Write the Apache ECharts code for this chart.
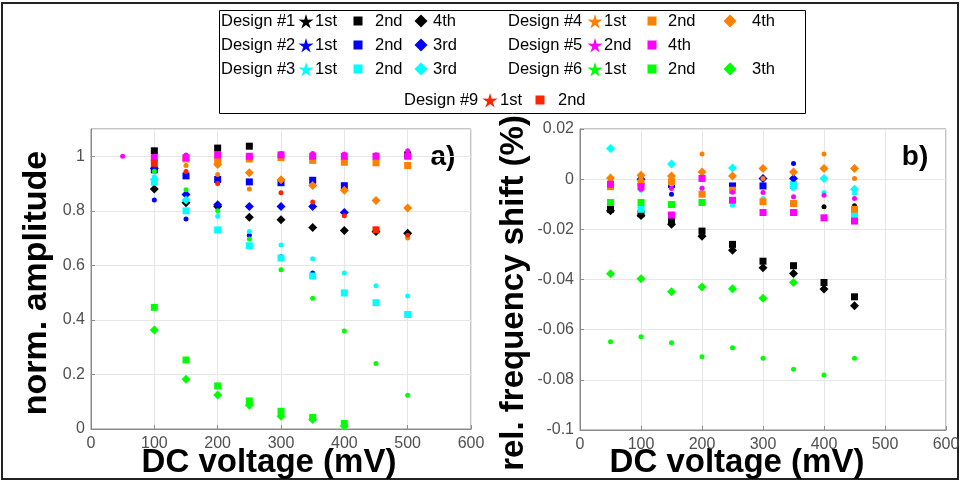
<!DOCTYPE html>
<html>
<head>
<meta charset="utf-8">
<script src="https://cdn.jsdelivr.net/npm/echarts@6/dist/echarts.min.js"></script>
<style>
  html, body { margin: 0; padding: 0; background: #fff; }
  #chart { width: 963px; height: 484px; }
</style>
</head>
<body>
<div id="chart"></div>
<script>
// DC bias voltages (mV) shared by every measurement series
const volts = [50, 100, 150, 200, 250, 300, 350, 400, 450, 500];

// a) normalized amplitude per design / mode
const d1_1st_amp = [null, null, null, null, null, null, null, null, null, null];
const d1_2nd_amp = [null, 1.02, null, 1.03, 1.037, null, null, null, null, 1.005];
const d1_4th_amp = [null, 0.88, 0.83, 0.816, 0.776, 0.767, 0.739, 0.728, 0.724, 0.718];
const d2_1st_amp = [null, 0.84, 0.77, null, 0.71, 0.632, 0.572, null, null, null];
const d2_2nd_amp = [null, 0.95, 0.928, 0.915, 0.906, 0.903, 0.912, 0.892, null, null];
const d2_3rd_amp = [null, 0.955, 0.86, 0.822, 0.816, 0.816, 0.816, 0.794, null, null];
const d3_1st_amp = [null, 0.925, null, 0.78, 0.724, 0.675, 0.624, 0.572, 0.525, 0.488];
const d3_2nd_amp = [null, 0.905, 0.80, 0.73, 0.672, 0.627, 0.561, 0.499, 0.463, 0.42];
const d3_3rd_amp = [null, 0.915, 0.84, null, null, null, null, null, null, null];
const d4_1st_amp = [null, null, 0.966, 0.933, 0.88, null, null, null, 0.734, 0.70];
const d4_2nd_amp = [null, null, 0.99, 0.985, 0.99, 0.995, 0.985, 0.978, 0.976, 0.966];
const d4_4th_amp = [null, null, null, 0.97, 0.94, 0.914, 0.893, 0.875, 0.838, 0.81];
const d5_2nd_amp = [1.0, 1.0, 1.005, 1.008, 1.0, 1.01, 1.01, 1.008, 1.006, 1.02];
const d5_4th_amp = [null, 0.995, 0.995, 1.005, 1.0, 1.005, 1.0, 1.0, 1.0, 1.0];
const d6_1st_amp = [null, 0.945, 0.877, 0.80, 0.697, 0.584, 0.479, 0.359, 0.24, 0.124];
const d6_2nd_amp = [null, 0.446, 0.253, 0.158, 0.103, 0.065, 0.042, 0.02, null, null];
const d6_3rd_amp = [null, 0.363, 0.182, 0.125, 0.087, 0.047, 0.035, 0.011, null, null];
const d9_1st_amp = [null, 0.97, 0.944, 0.90, null, 0.866, 0.832, 0.782, null, 0.71];
const d9_2nd_amp = [null, 0.975, null, null, null, null, null, null, 0.73, null];

// b) relative frequency shift (%) per design / mode
const d1_1st_shift = [null, null, null, null, null, null, null, -0.011, -0.0106, null];
const d1_2nd_shift = [-0.012, -0.0138, -0.0168, -0.0207, -0.026, -0.0327, -0.0345, -0.0412, -0.0469, null];
const d1_4th_shift = [-0.0126, -0.0145, -0.018, -0.0228, -0.0283, -0.0353, -0.0376, -0.0438, -0.0505, null];
const d2_1st_shift = [null, null, -0.006, null, null, null, 0.0062, null, null, null];
const d2_2nd_shift = [null, null, -0.0021, null, -0.0027, -0.0027, -0.0024, null, null, null];
const d2_3rd_shift = [null, 0.0, null, null, null, 0.0003, 0.0003, null, null, null];
const d3_1st_shift = [-0.003, -0.0044, -0.002, -0.0036, -0.0104, -0.0077, -0.0037, -0.0053, -0.0056, null];
const d3_2nd_shift = [null, -0.012, null, null, null, null, -0.0024, null, -0.0143, null];
const d3_3rd_shift = [0.0122, null, 0.006, null, 0.0045, null, null, 0.0003, -0.004, null];
const d4_1st_shift = [-0.001, 0.0004, -0.0004, 0.01, null, 0.0003, null, 0.01, 0.0003, null];
const d4_2nd_shift = [-0.003, -0.0015, -0.001, -0.006, -0.0044, -0.009, -0.0097, null, -0.012, null];
const d4_4th_shift = [0.0005, 0.0016, 0.0013, 0.0029, 0.0013, 0.0043, 0.0029, 0.0043, 0.0043, null];
const d5_2nd_shift = [-0.0025, -0.004, -0.0037, -0.0036, -0.0052, -0.0053, -0.007, -0.0064, -0.0077, null];
const d5_4th_shift = [-0.002, -0.003, -0.0143, 0.0003, -0.0084, -0.0133, -0.0133, -0.0154, -0.0167, null];
const d6_1st_shift = [-0.0648, -0.0628, -0.0652, -0.0708, -0.0672, -0.0714, -0.0758, -0.0781, -0.0714, null];
const d6_2nd_shift = [-0.0093, -0.0093, -0.0101, -0.0093, null, null, null, null, null, null];
const d6_3rd_shift = [-0.0377, -0.0397, -0.0449, -0.043, -0.0437, -0.0475, -0.0412, null, null, null];
const d9_1st_shift = [null, null, null, null, null, null, null, null, null, null];
const d9_2nd_shift = [null, null, null, null, null, null, null, null, null, null];

const BLACK = '#000000', BLUE = '#0000ff', CYAN = '#00ffff', ORANGE = '#ff8000',
      MAGENTA = '#ff00ff', GREEN = '#00ff00', RED = '#ff2200';

// one entry per design/mode; mark: star (first-listed marker), square, diamond
const defs = [
  { design: 'Design #1', mode: '1st', color: BLACK,   mark: 'star',    amp: d1_1st_amp, shift: d1_1st_shift },
  { design: 'Design #1', mode: '2nd', color: BLACK,   mark: 'square',  amp: d1_2nd_amp, shift: d1_2nd_shift },
  { design: 'Design #1', mode: '4th', color: BLACK,   mark: 'diamond', amp: d1_4th_amp, shift: d1_4th_shift },
  { design: 'Design #2', mode: '1st', color: BLUE,    mark: 'star',    amp: d2_1st_amp, shift: d2_1st_shift },
  { design: 'Design #2', mode: '2nd', color: BLUE,    mark: 'square',  amp: d2_2nd_amp, shift: d2_2nd_shift },
  { design: 'Design #2', mode: '3rd', color: BLUE,    mark: 'diamond', amp: d2_3rd_amp, shift: d2_3rd_shift },
  { design: 'Design #3', mode: '1st', color: CYAN,    mark: 'star',    amp: d3_1st_amp, shift: d3_1st_shift },
  { design: 'Design #3', mode: '2nd', color: CYAN,    mark: 'square',  amp: d3_2nd_amp, shift: d3_2nd_shift },
  { design: 'Design #3', mode: '3rd', color: CYAN,    mark: 'diamond', amp: d3_3rd_amp, shift: d3_3rd_shift },
  { design: 'Design #4', mode: '1st', color: ORANGE,  mark: 'star',    amp: d4_1st_amp, shift: d4_1st_shift },
  { design: 'Design #4', mode: '2nd', color: ORANGE,  mark: 'square',  amp: d4_2nd_amp, shift: d4_2nd_shift },
  { design: 'Design #4', mode: '4th', color: ORANGE,  mark: 'diamond', amp: d4_4th_amp, shift: d4_4th_shift },
  { design: 'Design #5', mode: '2nd', color: MAGENTA, mark: 'star',    amp: d5_2nd_amp, shift: d5_2nd_shift },
  { design: 'Design #5', mode: '4th', color: MAGENTA, mark: 'square',  amp: d5_4th_amp, shift: d5_4th_shift },
  { design: 'Design #6', mode: '1st', color: GREEN,   mark: 'star',    amp: d6_1st_amp, shift: d6_1st_shift },
  { design: 'Design #6', mode: '2nd', color: GREEN,   mark: 'square',  amp: d6_2nd_amp, shift: d6_2nd_shift },
  { design: 'Design #6', mode: '3th', color: GREEN,   mark: 'diamond', amp: d6_3rd_amp, shift: d6_3rd_shift },
  { design: 'Design #9', mode: '1st', color: RED,     mark: 'star',    amp: d9_1st_amp, shift: d9_1st_shift },
  { design: 'Design #9', mode: '2nd', color: RED,     mark: 'square',  amp: d9_2nd_amp, shift: d9_2nd_shift }
];

const plotSymbol = {
  star:    { symbol: 'circle',  size: 5 },
  square:  { symbol: 'rect',    size: 7 },
  diamond: { symbol: 'diamond', size: 9 }
};

const FONT = '"Liberation Sans", Arial, Helvetica, sans-serif';
const AXIS_GRAY = '#8a8a8a';
const LABEL_GRAY = '#505050';

function pairs(values) {
  const out = [];
  volts.forEach((v, i) => { if (values[i] != null) out.push([v, values[i]]); });
  return out;
}

const series = [];
defs.forEach((d) => {
  const s = plotSymbol[d.mark];
  [['amp', 0], ['shift', 1]].forEach(([key, idx]) => {
    series.push({
      type: 'scatter',
      name: d.design + ' ' + d.mode,
      xAxisIndex: idx,
      yAxisIndex: idx,
      symbol: s.symbol,
      symbolSize: s.size,
      itemStyle: { color: d.color, opacity: 1 },
      emphasis: { disabled: true },
      data: pairs(d[key])
    });
  });
});

function xAxisCfg(gridIndex) {
  return {
    type: 'value', gridIndex, min: 0, max: 600, interval: 100,
    axisLine: { show: true, onZero: false, lineStyle: { color: AXIS_GRAY, width: 1 } },
    axisTick: { show: true, inside: true, length: 4, lineStyle: { color: AXIS_GRAY } },
    axisLabel: { color: LABEL_GRAY, fontFamily: FONT, fontSize: 16, margin: 7 },
    splitLine: { show: true, lineStyle: { color: '#e6e6e6', width: 1 } }
  };
}

function yAxisCfg(gridIndex, min, max, interval, hideMax) {
  return {
    type: 'value', gridIndex, min, max, interval,
    axisLine: { show: true, onZero: false, lineStyle: { color: AXIS_GRAY, width: 1 } },
    axisTick: { show: true, inside: true, length: 4, lineStyle: { color: AXIS_GRAY } },
    axisLabel: { color: LABEL_GRAY, fontFamily: FONT, fontSize: 16, margin: 6, showMaxLabel: !hideMax },
    splitLine: { show: true, lineStyle: { color: '#e6e6e6', width: 1 } }
  };
}

// ---- legend block drawn as graphic elements ----
function starPoints(cx, cy, r) {
  const pts = [];
  const inner = r * 0.36;
  for (let k = 0; k < 10; k++) {
    const ang = -Math.PI / 2 + k * Math.PI / 5;
    const rr = k % 2 === 0 ? r : inner;
    pts.push([cx + rr * Math.cos(ang), cy + rr * Math.sin(ang)]);
  }
  return pts;
}

function legendIcon(mark, color, cx, cy) {
  if (mark === 'star') {
    return { type: 'polygon', shape: { points: starPoints(cx, cy + 1, 8) }, style: { fill: color } };
  }
  if (mark === 'square') {
    return { type: 'rect', shape: { x: cx - 4.5, y: cy - 4.5, width: 9, height: 9 }, style: { fill: color } };
  }
  return { type: 'polygon', shape: { points: [[cx, cy - 6.5], [cx + 6.5, cy], [cx, cy + 6.5], [cx - 6.5, cy]] }, style: { fill: color } };
}

function txt(text, x, y, opts) {
  opts = opts || {};
  return {
    type: 'text',
    x: x, y: y,
    rotation: opts.rotation || 0,
    style: {
      text: text, x: 0, y: 0,
      fill: opts.fill || '#000',
      font: (opts.weight || 'normal') + ' ' + (opts.size || 16.5) + 'px ' + FONT,
      textAlign: opts.align || 'left', textVerticalAlign: 'middle'
    }
  };
}

const legendRows = [
  { y: 21, groups: [{ design: 'Design #1', block: 'L' }, { design: 'Design #4', block: 'R' }] },
  { y: 45, groups: [{ design: 'Design #2', block: 'L' }, { design: 'Design #5', block: 'R' }] },
  { y: 69, groups: [{ design: 'Design #3', block: 'L' }, { design: 'Design #6', block: 'R' }] },
  { y: 100, groups: [{ design: 'Design #9', block: 'C' }] }
];
const legendBlocks = {
  L: { label: 221, icons: [306, 358, 421], texts: [315, 375, 433] },
  R: { label: 508, icons: [595, 652, 730], texts: [604, 668, 752] },
  C: { label: 404, icons: [490, 540], texts: [500, 558] }
};

const graphics = [];
// figure frame
graphics.push({ type: 'rect', shape: { x: 2, y: 3, width: 956, height: 476 }, style: { fill: 'none', stroke: '#222', lineWidth: 2 } });
// legend box
graphics.push({ type: 'rect', shape: { x: 219.5, y: 10.5, width: 586, height: 103 }, style: { fill: '#fff', stroke: '#000', lineWidth: 1 } });

legendRows.forEach((row) => {
  row.groups.forEach((g) => {
    const b = legendBlocks[g.block];
    graphics.push(txt(g.design, b.label, row.y));
    defs.filter((d) => d.design === g.design).forEach((d, k) => {
      graphics.push(legendIcon(d.mark, d.color, b.icons[k], row.y));
      graphics.push(txt(d.mode, b.texts[k], row.y));
    });
  });
});

// axis titles and panel tags
graphics.push(txt('norm. amplitude', 37, 283, { rotation: Math.PI / 2, size: 34, weight: 'bold', align: 'center' }));
graphics.push(txt('rel. frequency shift (%)', 514, 293, { rotation: Math.PI / 2, size: 33, weight: 'bold', align: 'center' }));
graphics.push(txt('DC voltage (mV)', 269, 463, { size: 33, weight: 'bold', align: 'center' }));
graphics.push(txt('DC voltage (mV)', 737, 463, { size: 33, weight: 'bold', align: 'center' }));
graphics.push(txt('a)', 443, 157, { size: 28, weight: 'bold', align: 'center' }));
graphics.push(txt('b)', 915, 157, { size: 28, weight: 'bold', align: 'center' }));

const chart = echarts.init(document.getElementById('chart'), null, { renderer: 'canvas' });
chart.setOption({
  animation: false,
  backgroundColor: '#ffffff',
  grid: [
    { left: 91, top: 129, width: 380, height: 300, show: true, borderColor: AXIS_GRAY, borderWidth: 1, backgroundColor: '#fff' },
    { left: 580, top: 129, width: 366, height: 301, show: true, borderColor: AXIS_GRAY, borderWidth: 1, backgroundColor: '#fff' }
  ],
  xAxis: [xAxisCfg(0), xAxisCfg(1)],
  yAxis: [yAxisCfg(0, 0, 1.1, 0.2, true), yAxisCfg(1, -0.1, 0.02, 0.02, false)],
  series: series,
  graphic: { elements: graphics }
});
</script>
</body>
</html>
